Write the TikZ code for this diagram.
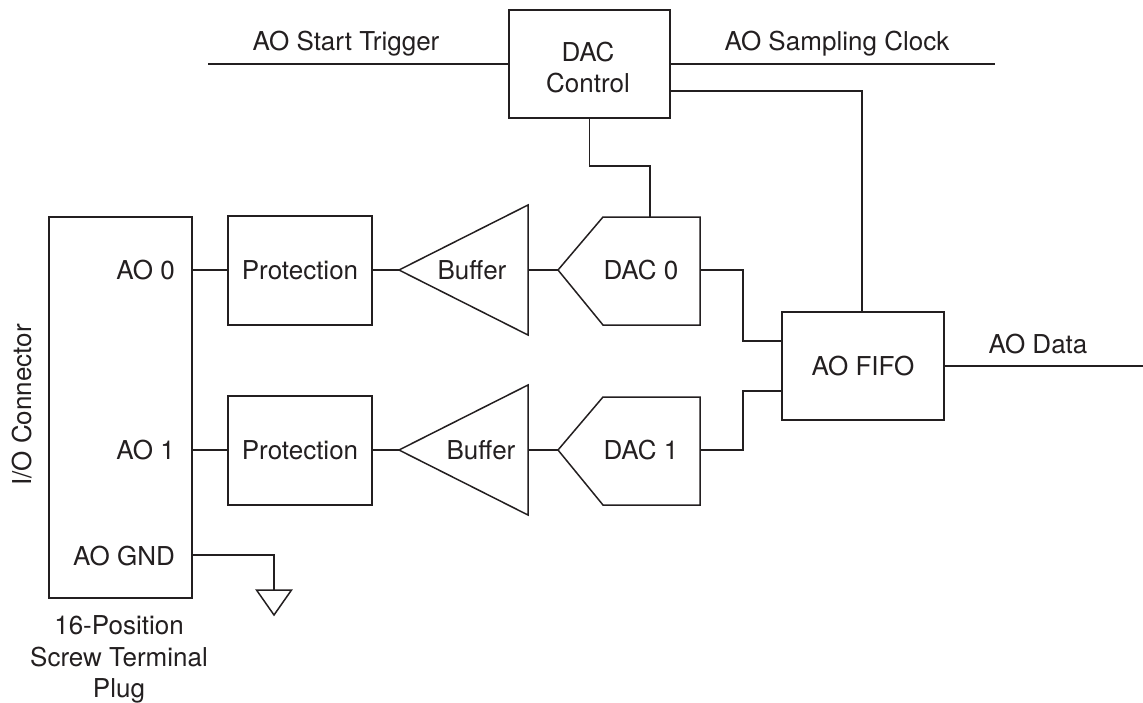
\documentclass[tikz,border=0pt]{standalone}
\usepackage{fontspec}
\setmainfont{TeX Gyre Heros}
\definecolor{ink}{HTML}{231F20}
\begin{document}
\begin{tikzpicture}[x=1pt,y=-1pt,
 ln/.style={draw=ink,line width=1.5pt,line join=miter},
 txt/.style={inner sep=0pt,font=\fontsize{26}{31.3}\selectfont,align=center,text=ink},
 conn/.style={draw=ink,line width=1.5pt}]
\useasboundingbox (0,0) rectangle (1143,702);
\node[ln,minimum width=143pt,minimum height=381pt,inner sep=0pt] (conn) at (120.5,407.5) {};
\coordinate (ao0) at (conn.east |- 0,270);
\coordinate (ao1) at (conn.east |- 0,450);
\coordinate (aognd) at (conn.east |- 0,555);
\node[txt,anchor=east] (tao0) at (175,270) {AO 0};
\node[txt,anchor=east] (tao1) at (175,450) {AO 1};
\node[txt,anchor=east] (tgnd) at (175,556) {AO GND};
\node[txt,rotate=90] (io) at (22,405) {I/O Connector};
\node[txt] (plug) at (119,659.5) {16-Position\\Screw Terminal\\Plug};
\node[ln,minimum width=144pt,minimum height=109pt,inner sep=0pt,txt] (p0) at (300,270.5) {Protection};
\node[ln,minimum width=144pt,minimum height=109pt,inner sep=0pt,txt] (p1) at (300,450.5) {Protection};
\node[ln,minimum width=161pt,minimum height=108pt,inner sep=0pt] (dac) at (589.5,64) {};
\node[txt] (tdac) at (588,67.5) {DAC\\Control};
\node[ln,minimum width=162pt,minimum height=108pt,inner sep=0pt,txt] (fifo) at (863,366) {AO FIFO};
% Buffers
\draw[ln] (399,270) -- (528,205) -- (528,335) -- cycle;
\draw[ln] (399,450) -- (528,385) -- (528,515) -- cycle;
\coordinate (b0l) at (399,270); \coordinate (b0r) at (528,270);
\coordinate (b1l) at (399,450); \coordinate (b1r) at (528,450);
\node[txt] (tb0) at (472,270) {Buffer};
\node[txt] (tb1) at (481,450) {Buffer};
% DACs
\draw[ln] (558,270) -- (603,217) -- (700,217) -- (700,325) -- (603,325) -- cycle;
\draw[ln] (558,450) -- (603,397) -- (700,397) -- (700,505) -- (603,505) -- cycle;
\coordinate (d0l) at (558,270); \coordinate (d0r) at (700,270); \coordinate (d0t) at (650,217);
\coordinate (d1l) at (558,450); \coordinate (d1r) at (700,450);
\node[txt] (td0) at (641,270) {DAC 0};
\node[txt] (td1) at (641,450) {DAC 1};
% connectors
\draw[conn] (ao0) -- (ao0 -| p0.west);
\draw[conn] (ao1) -- (ao1 -| p1.west);
\draw[conn] (b0l -| p0.east) -- (b0l);
\draw[conn] (b1l -| p1.east) -- (b1l);
\draw[conn] (b0r) -- (d0l);
\draw[conn] (b1r) -- (d1l);
\draw[conn] (d0r) -- (743,270) -- (743,341) -- (fifo.west |- 0,341);
\draw[conn] (d1r) -- (743,450) -- (743,391) -- (fifo.west |- 0,391);
\draw[conn] (dac.south) -- (dac.south |- 0,166) -- (650,166) -- (d0t);
\coordinate (dacr) at (dac.east |- 0,91);
\draw[conn] (dacr) -- (862,91) -- (862,312);
\coordinate (st) at (208,64); \coordinate (se) at (995,64);
\draw[conn] (st) -- (dac.west);
\draw[conn] (dac.east) -- (se);
\coordinate (dataend) at (1143,366);
\draw[conn] (fifo.east) -- (dataend);
\node[txt] (tst) at (346,43.5) {AO Start Trigger};
\node[txt] (tclk) at (837,43.5) {AO Sampling Clock};
\node[txt] (tdata) at (1038,344) {AO Data};
% ground
\coordinate (g) at (274,590);
\draw[conn] (aognd) -- (274,555) -- (g);
\draw[ln] (256.5,590) -- (291.5,590) -- (274,615) -- cycle;
\end{tikzpicture}
\end{document}
